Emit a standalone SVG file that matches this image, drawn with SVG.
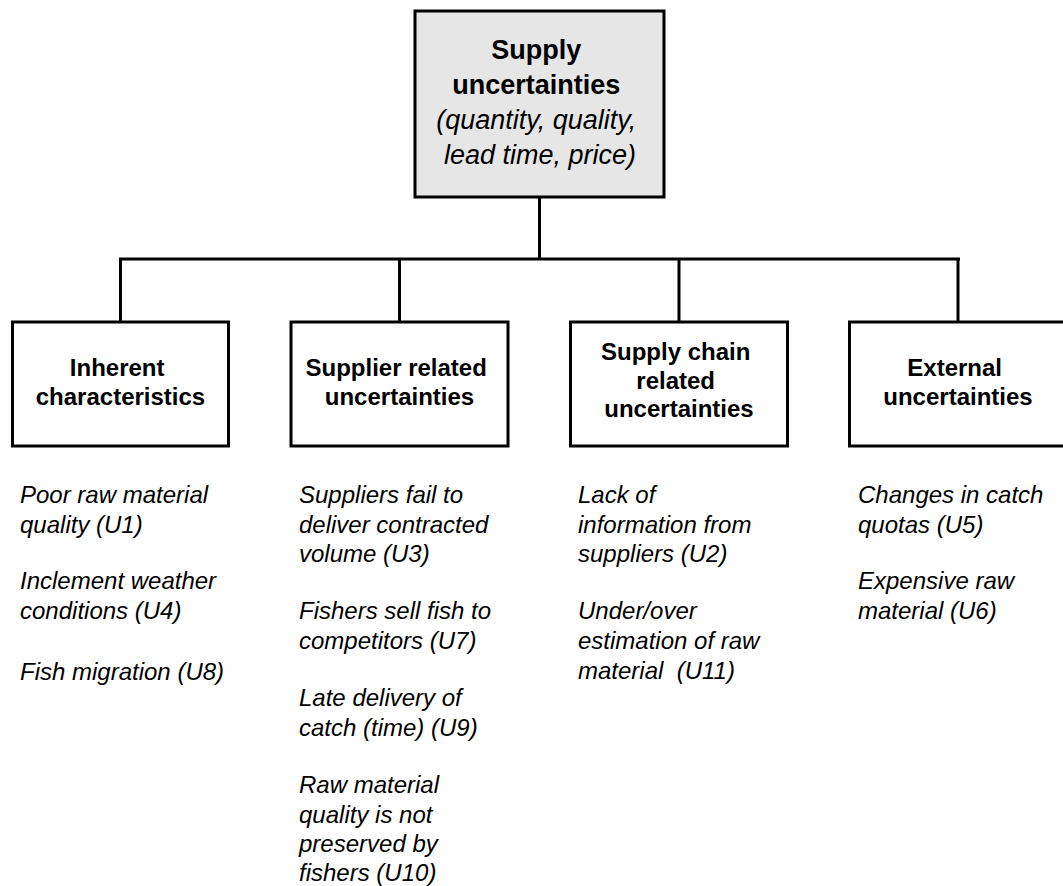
<svg xmlns="http://www.w3.org/2000/svg" width="1063" height="886" viewBox="0 0 1063 886">
  <style>
    .box { fill: #ffffff; stroke: #000000; stroke-width: 3; }
    .root { fill: #e6e6e6; stroke: #000000; stroke-width: 3; }
    .link { fill: none; stroke: #000000; stroke-width: 3; }
    .title { font-family: "Liberation Sans", Arial, sans-serif; font-size: 27px; fill: #000; text-anchor: middle; }
    .head { font-family: "Liberation Sans", Arial, sans-serif; font-size: 24px; font-weight: bold; fill: #000; text-anchor: middle; }
    .item { font-family: "Liberation Sans", Arial, sans-serif; font-size: 24px; font-style: italic; fill: #000; }
    .b { font-weight: bold; }
    .i { font-style: italic; }
  </style>

  <!-- tree connectors -->
  <g id="connectors">
    <line class="link" x1="539.5" y1="198" x2="539.5" y2="259"/>
    <line class="link" x1="119" y1="259" x2="960" y2="259"/>
    <line class="link" x1="120.5" y1="259" x2="120.5" y2="322"/>
    <line class="link" x1="399.5" y1="259" x2="399.5" y2="322"/>
    <line class="link" x1="679" y1="259" x2="679" y2="322"/>
    <line class="link" x1="958" y1="259" x2="958" y2="322"/>
  </g>

  <!-- root node -->
  <g id="supply-uncertainties">
    <rect class="root" x="415" y="11" width="249" height="186"/>
    <text class="title">
      <tspan class="b" x="540" y="59">Supply</tspan>
      <tspan class="b" x="540" y="94">uncertainties</tspan>
      <tspan class="i" x="540" y="129">(quantity, quality,</tspan>
      <tspan class="i" x="540" y="164">lead time, price)</tspan>
    </text>
  </g>

  <!-- category: inherent characteristics -->
  <g id="inherent">
    <rect class="box" x="12.5" y="322" width="216" height="124"/>
    <text class="head">
      <tspan x="120.5" y="376">Inherent</tspan>
      <tspan x="120.5" y="405">characteristics</tspan>
    </text>
    <text class="item">
      <tspan x="20" y="503">Poor raw material</tspan>
      <tspan x="20" y="533">quality (U1)</tspan>
      <tspan x="20" y="589">Inclement weather</tspan>
      <tspan x="20" y="619">conditions (U4)</tspan>
      <tspan x="20" y="680">Fish migration (U8)</tspan>
    </text>
  </g>

  <!-- category: supplier related -->
  <g id="supplier">
    <rect class="box" x="291" y="322" width="217" height="124"/>
    <text class="head">
      <tspan x="399.5" y="376">Supplier related</tspan>
      <tspan x="399.5" y="405">uncertainties</tspan>
    </text>
    <text class="item">
      <tspan x="299" y="503">Suppliers fail to</tspan>
      <tspan x="299" y="533">deliver contracted</tspan>
      <tspan x="299" y="562">volume (U3)</tspan>
      <tspan x="299" y="619">Fishers sell fish to</tspan>
      <tspan x="299" y="649">competitors (U7)</tspan>
      <tspan x="299" y="706">Late delivery of</tspan>
      <tspan x="299" y="736">catch (time) (U9)</tspan>
      <tspan x="299" y="793">Raw material</tspan>
      <tspan x="299" y="823">quality is not</tspan>
      <tspan x="299" y="852">preserved by</tspan>
      <tspan x="299" y="881">fishers (U10)</tspan>
    </text>
  </g>

  <!-- category: supply chain related -->
  <g id="supply-chain">
    <rect class="box" x="570.5" y="322" width="217" height="124"/>
    <text class="head">
      <tspan x="679" y="360">Supply chain</tspan>
      <tspan x="679" y="389">related</tspan>
      <tspan x="679" y="417">uncertainties</tspan>
    </text>
    <text class="item">
      <tspan x="578" y="503">Lack of</tspan>
      <tspan x="578" y="533">information from</tspan>
      <tspan x="578" y="562">suppliers (U2)</tspan>
      <tspan x="578" y="619">Under/over</tspan>
      <tspan x="578" y="649">estimation of raw</tspan>
      <tspan x="578" y="679" xml:space="preserve">material  (U11)</tspan>
    </text>
  </g>

  <!-- category: external -->
  <g id="external">
    <rect class="box" x="849.5" y="322" width="217" height="124"/>
    <text class="head">
      <tspan x="958" y="376">External</tspan>
      <tspan x="958" y="405">uncertainties</tspan>
    </text>
    <text class="item">
      <tspan x="858" y="503">Changes in catch</tspan>
      <tspan x="858" y="533">quotas (U5)</tspan>
      <tspan x="858" y="589">Expensive raw</tspan>
      <tspan x="858" y="619">material (U6)</tspan>
    </text>
  </g>
</svg>
